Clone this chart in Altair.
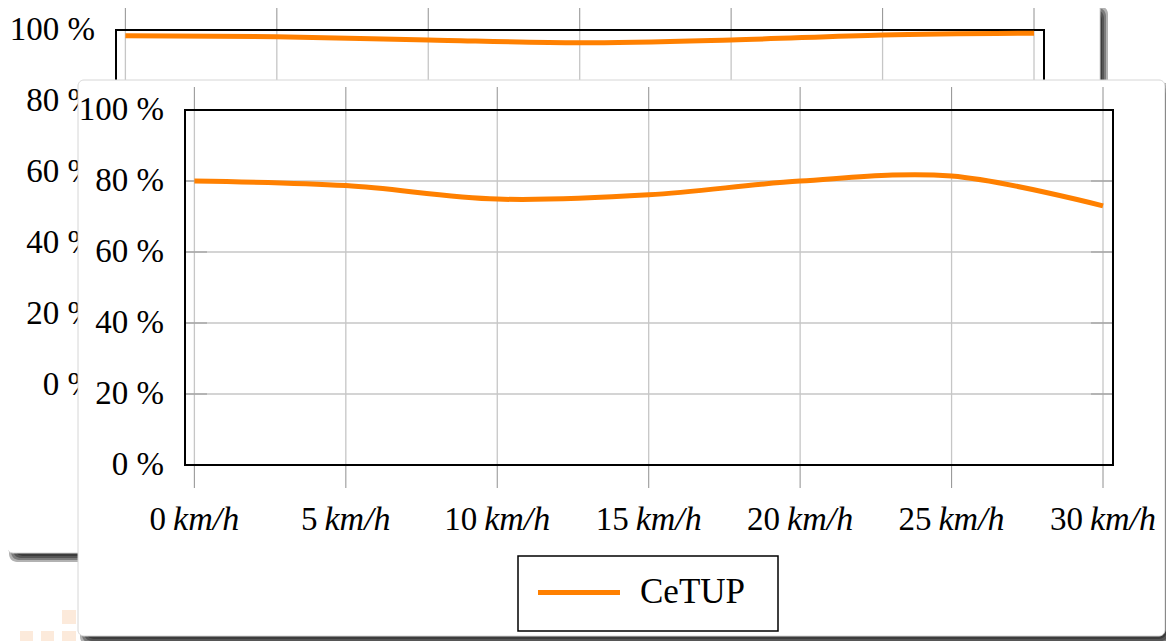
import altair as alt
import pandas as pd

# ---------------- data ----------------
SPEEDS = [0, 5, 10, 15, 20, 25, 30]
FRONT_EFF = [80.0, 78.7, 74.9, 76.1, 80.0, 81.4, 73.0]
BACK_EFF = [98.4, 98.1, 97.2, 96.4, 97.2, 98.6, 99.1]
SERIES = "CeTUP"
X_TICKS = [0, 5, 10, 15, 20, 25, 30]
X_TICK_NUMS = ["0", "5", "10", "15", "20", "25", "30"]
X_UNIT = "km/h"
Y_TICKS = [0, 20, 40, 60, 80, 100]
Y_TICK_LABELS = ["0 %", "20 %", "40 %", "60 %", "80 %", "100 %"]
X_DOMAIN = [-0.31, 30.33]
Y_DOMAIN = [0, 100]

# ---------------- style ----------------
W, H = 1158, 633
ORANGE = "#ff8000"
GRID = "#c6c6c6"
TICKC = "#9a9a9a"
SERIF = "Liberation Serif"
FS = 33
UNIT_FS = 34

one = pd.DataFrame({"k": [0]})
xt = pd.DataFrame({"v": X_TICKS, "num": X_TICK_NUMS, "unit": [X_UNIT] * len(X_TICKS)})
yt = pd.DataFrame({"v": Y_TICKS, "lab": Y_TICK_LABELS})


def rect(x, y, x2, y2, **mark):
    return alt.Chart(one).mark_rect(**mark).encode(
        x=alt.value(x), x2=alt.value(x2), y=alt.value(y), y2=alt.value(y2)
    )


def card(x0, y0, x1, y1):
    layers = []
    for s in [-3, -1, 1, 3]:
        layers.append(rect(x0 + 5 - s, y0 + 6 - s, x1 + 5 + s, y1 + 6 + s,
                           color="black", opacity=0.3, cornerRadius=8))
    layers.append(rect(x0, y0, x1, y1, fill="white", stroke="#d6d6d6",
                       strokeWidth=1, cornerRadius=6))
    return layers


def panel(eff, L, R, T, B, label_right, xlab_y, legend=False):
    xs = alt.Scale(domain=X_DOMAIN, range=[L, R], nice=False, zero=False)
    ys = alt.Scale(domain=Y_DOMAIN, range=[B, T], nice=False, zero=False)
    X = lambda f: alt.X(f, scale=xs, axis=None)
    Y = lambda f: alt.Y(f, scale=ys, axis=None)
    pxu = (R - L) / (X_DOMAIN[1] - X_DOMAIN[0])
    layers = []
    # vertical grid + outer ticks
    layers.append(alt.Chart(xt).mark_rule(color=GRID, strokeWidth=1.3).encode(
        x=X("v:Q"), y=alt.value(T), y2=alt.value(B)))
    layers.append(alt.Chart(xt).mark_rule(color=TICKC, strokeWidth=1.1).encode(
        x=X("v:Q"), y=alt.value(T - 23), y2=alt.value(T)))
    layers.append(alt.Chart(xt).mark_rule(color=TICKC, strokeWidth=1.1).encode(
        x=X("v:Q"), y=alt.value(B), y2=alt.value(B + 23)))
    # horizontal grid + inner ticks
    layers.append(alt.Chart(yt).mark_rule(color=GRID, strokeWidth=1.3).encode(
        y=Y("v:Q"), x=alt.value(L), x2=alt.value(R)))
    layers.append(alt.Chart(yt).mark_rule(color=TICKC, strokeWidth=1.1).encode(
        y=Y("v:Q"), x=alt.value(L), x2=alt.value(L + 22)))
    layers.append(alt.Chart(yt).mark_rule(color=TICKC, strokeWidth=1.1).encode(
        y=Y("v:Q"), x=alt.value(R - 22), x2=alt.value(R)))
    # frame
    layers.append(rect(L, T, R, B, fillOpacity=0, stroke="black", strokeWidth=2))
    # data line
    df = pd.DataFrame({"speed": SPEEDS, "eff": eff, "series": [SERIES] * len(SPEEDS)})
    layers.append(alt.Chart(df).mark_line(color=ORANGE, strokeWidth=5,
                                          interpolate="cardinal").encode(
        x=X("speed:Q"), y=Y("eff:Q")))
    # y tick labels
    layers.append(alt.Chart(yt).mark_text(font=SERIF, fontSize=FS, align="right",
                                          baseline="middle", color="black").encode(
        y=Y("v:Q"), x=alt.value(label_right), text="lab:N"))
    # x tick labels: number upright + unit italic, centred together on the tick
    dw, gap, uw = FS * 0.5, 7, UNIT_FS * 1.944
    numexpr = f"datum.v + ((length(datum.num)*{dw} - {gap} - {uw})/2)/{pxu}"
    unitexpr = f"datum.v + ((length(datum.num)*{dw} + {gap} - {uw})/2)/{pxu}"
    layers.append(alt.Chart(xt).transform_calculate(xn=numexpr).mark_text(
        font=SERIF, fontSize=FS, align="right", baseline="middle", color="black").encode(
        x=X("xn:Q"), y=alt.value(xlab_y), text="num:N"))
    layers.append(alt.Chart(xt).transform_calculate(xu=unitexpr).mark_text(
        font=SERIF, fontSize=UNIT_FS, fontStyle="italic", align="left",
        baseline="middle", color="black").encode(
        x=X("xu:Q"), y=alt.value(xlab_y), text="unit:N"))
    if legend:
        lx0, ly0, lx1, ly1 = 510, 548, 770, 623
        layers.append(rect(lx0, ly0, lx1, ly1, fill="white", stroke="black", strokeWidth=1.5))
        layers.append(alt.Chart(df.head(1)).mark_rule(color=ORANGE, strokeWidth=5).encode(
            x=alt.value(530), x2=alt.value(612), y=alt.value(584.5)))
        layers.append(alt.Chart(df.head(1)).mark_text(font=SERIF, fontSize=35, align="left",
                                                      baseline="middle", color="black").encode(
            x=alt.value(632), y=alt.value(584), text="series:N"))
    return layers


layers = []
# faint logo squares in the slide corner
for (a, b, c, d) in [(12, 623, 25, 640), (33, 623, 46, 640), (54, 623, 68, 640), (54, 602, 68, 616)]:
    layers.append(rect(a, b, c, d, fill="#fbe3cf", opacity=0.75))
# back card + chart
layers += card(-1, -5, 1092, 545)
layers += panel(BACK_EFF, 108, 1036, 22, 377, 87, 432)
# front card + chart
layers += card(70, 72, 1157, 628)
layers += panel(FRONT_EFF, 177, 1105, 102, 457, 156, 512, legend=True)

chart = alt.layer(*layers).resolve_scale(x="independent", y="independent").properties(
    width=W, height=H, padding=0, autosize=alt.AutoSizeParams(type="none")
).configure_view(stroke="transparent")

chart.save("out.html", embed_options={"renderer": "svg", "actions": False})
